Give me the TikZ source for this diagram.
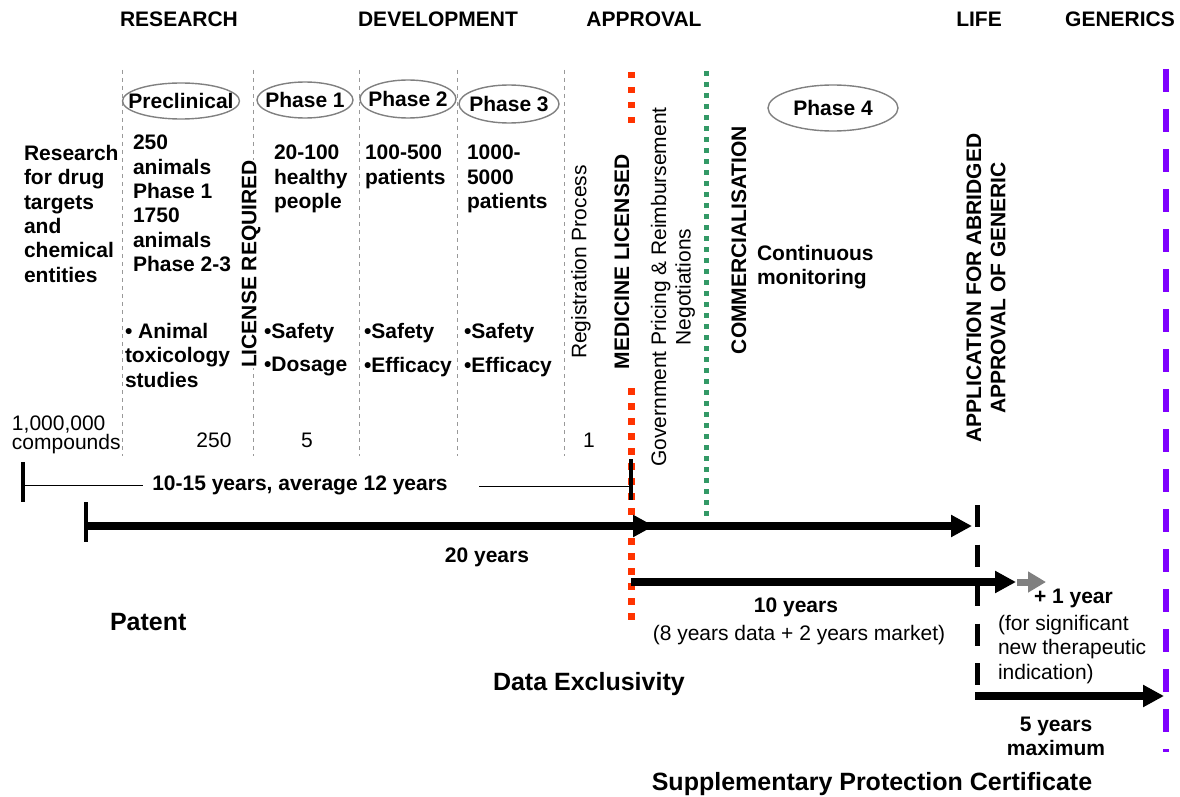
\documentclass[tikz,border=0pt]{standalone}
\usepackage{fontspec}
\setmainfont{Liberation Sans}
\usetikzlibrary{shapes.geometric,arrows.meta}
\definecolor{redorange}{RGB}{255,51,0}
\definecolor{grn}{RGB}{51,153,102}
\definecolor{purp}{RGB}{127,0,255}
\begin{document}
\begin{tikzpicture}[x=1pt,y=-1pt,
 tb/.style={font=\fontsize{21}{24.4}\selectfont\bfseries, inner sep=0pt, outer sep=0pt},
 tr/.style={font=\fontsize{21}{24.4}\selectfont, inner sep=0pt, outer sep=0pt},
 tbig/.style={font=\fontsize{25}{30}\selectfont\bfseries, inner sep=0pt, outer sep=0pt},
 phase/.style={ellipse, draw=gray, line width=1.4pt, inner sep=0pt},
 sepline/.style={draw=gray!80, line width=0.8pt, dash pattern=on 4pt off 4pt},
 bar/.style={line width=7.5pt, -{Triangle[length=21pt,width=21pt]}},
 tickline/.style={line width=4pt},
 redline/.style={draw=redorange, line width=7pt, dash pattern=on 6.5pt off 8.5pt},
 greenline/.style={draw=grn, line width=5pt, dash pattern=on 5pt off 6pt},
 purpline/.style={draw=purp, line width=5.5pt, dash pattern=on 23pt off 17pt},
 lifeline/.style={draw=black, line width=5pt, dash pattern=on 22pt off 17.5pt}]
\useasboundingbox (0,0) rectangle (1180,797);

% headers
\node[tb, anchor=base] (hres) at (179,27) {RESEARCH};
\node[tb, anchor=base] (hdev) at (438,27) {DEVELOPMENT};
\node[tb, anchor=base] (happ) at (644,27) {APPROVAL};
\node[tb, anchor=base] (hlife) at (979,27) {LIFE};
\node[tb, anchor=base] (hgen) at (1120,27) {GENERICS};

% separators
\foreach \i/\x in {1/122,2/253,3/359,4/457,5/564} {
  \coordinate (s\i t) at (\x,70);
  \coordinate (s\i b) at (\x,456);
  \draw[sepline] (s\i t) -- (s\i b);
}

% phase ellipses
\node[phase, minimum width=117pt, minimum height=36pt] (e0) at (181,101) {};
\node[tb] (pre) at (e0) {Preclinical};
\node[phase, minimum width=96pt, minimum height=36pt] (e1) at (305,100) {};
\node[tb] (ph1) at (e1) {Phase 1};
\node[phase, minimum width=96pt, minimum height=38pt] (e2) at (408,99) {};
\node[tb] (ph2) at (e2) {Phase 2};
\node[phase, minimum width=100pt, minimum height=38pt] (e3) at (509,104) {};
\node[tb] (ph3) at (e3) {Phase 3};
\node[phase, minimum width=130pt, minimum height=46pt] (e4) at (833,108) {};
\node[tb] (ph4) at (e4) {Phase 4};

% column texts
\node[tb, align=left, anchor=north west] (research) at (24,145) {Research\\for drug\\targets\\and\\chemical\\entities};
\node[tb, align=left, anchor=north west] (animals) at (133,135) {250\\animals\\Phase 1\\1750\\animals\\Phase 2-3};
\node[tb, align=left, anchor=north west] (tox) at (125,323) {\textbullet\ Animal\\toxicology\\studies};
\node[tb, rotate=90, fill=white] (lic) at (251,264) {LICENSE REQUIRED};
\node[tb, align=left, anchor=north west] (p1txt) at (274,145) {20-100\\healthy\\people};
\node[tb, anchor=north west] (p1a) at (264,323) {\textbullet{}Safety};
\node[tb, anchor=north west] (p1b) at (264,357) {\textbullet{}Dosage};
\node[tb, align=left, anchor=north west] (p2txt) at (365,145) {100-500\\patients};
\node[tb, anchor=north west] (p2a) at (364,323) {\textbullet{}Safety};
\node[tb, anchor=north west] (p2b) at (364,357) {\textbullet{}Efficacy};
\node[tb, align=left, anchor=north west] (p3txt) at (467,145) {1000-\\5000\\patients};
\node[tb, anchor=north west] (p3a) at (464,323) {\textbullet{}Safety};
\node[tb, anchor=north west] (p3b) at (464,357) {\textbullet{}Efficacy};

% counts
\node[tr, align=left, anchor=north west, font=\fontsize{21}{19}\selectfont] (cnt) at (12,416) {1,000,000\\compounds};
\node[tr, anchor=base] (n250) at (214,447) {250};
\node[tr, anchor=base] (n5) at (307,447) {5};
\node[tr, anchor=base] (n1) at (589,447) {1};

% approval column texts
\node[tr, rotate=90] (reg) at (581,262) {Registration Process};
\node[tb, rotate=90] (medlic) at (622,262) {MEDICINE LICENSED};
\node[tr, rotate=90, align=center] (gov) at (673,287) {Government Pricing \& Reimbursement\\Negotiations};
\node[tb, rotate=90] (comm) at (739,240) {COMMERCIALISATION};
\node[tb, align=left, anchor=north west] (cont) at (757,245) {Continuous\\monitoring};
\node[tb, rotate=90, align=center] (appl) at (986,288) {APPLICATION FOR ABRIDGED\\APPROVAL OF GENERIC};

% vertical marker lines
\coordinate (rA) at (631,72);
\coordinate (rB) at (631,126);
\coordinate (rC) at (631,388);
\coordinate (rD) at (631,622);
\draw[redline] (rA) -- (rB);
\draw[redline] (rC) -- (rD);
\coordinate (gA) at (706,71);
\coordinate (gB) at (706,518);
\draw[greenline] (gA) -- (gB);
\coordinate (pA) at (1166,69);
\coordinate (pB) at (1166,752);
\draw[purpline] (pA) -- (pB);
\coordinate (lA) at (977,505);
\coordinate (lB) at (977,690);
\draw[lifeline] (lA) -- (lB);

% 10-15 years span
\coordinate (tl0) at (23,485);
\coordinate (tl1) at (143,485);
\coordinate (tr0) at (479,486);
\coordinate (tr1) at (631,486);
\draw[line width=1pt] (tl0) -- (tl1);
\draw[line width=1pt] (tr0) -- (tr1);
\node[tb, anchor=base] (tlab) at (300,490) {10-15 years, average 12 years};
\coordinate (tk1a) at (23,462);
\coordinate (tk1b) at (23,502);
\draw[tickline] (tk1a) -- (tk1b);
\coordinate (tk2a) at (631,459);
\coordinate (tk2b) at (631,500);
\draw[tickline] (tk2a) -- (tk2b);

% patent
\coordinate (pt0a) at (86,502);
\coordinate (pt0b) at (86,542);
\draw[tickline] (pt0a) -- (pt0b);
\coordinate (pat0) at (86,526);
\coordinate (patm) at (654,526);
\coordinate (patm2) at (640,526);
\coordinate (pat1) at (972,526);
\draw[bar] (pat0) -- (patm);
\draw[bar] (patm2) -- (pat1);
\node[tb, anchor=base] (y20) at (487,562) {20 years};
\node[tbig, anchor=base west] (patent) at (110,630) {Patent};

% data exclusivity
\coordinate (de0) at (631,582);
\coordinate (de1) at (1016,582);
\draw[bar] (de0) -- (de1);
\coordinate (gx0) at (1017,582);
\coordinate (gx1) at (1046,582);
\draw[line width=7pt, draw=gray, fill=gray, -{Triangle[length=18pt,width=20pt]}] (gx0) -- (gx1);
\node[tb, anchor=base] (y10) at (796,612) {10 years};
\node[tr, anchor=base] (y10b) at (799,640) {(8 years data + 2 years market)};
\node[tb, anchor=base west] (plus1) at (1034,603) {+ 1 year};
\node[tr, align=left, anchor=north west] (sig) at (998,615) {(for significant\\new therapeutic\\indication)};
\node[tbig, anchor=base west] (dataex) at (493,690) {Data Exclusivity};

% SPC
\coordinate (sp0) at (975,696);
\coordinate (sp1) at (1164,696);
\draw[bar] (sp0) -- (sp1);
\node[tb, align=center, anchor=north] (y5) at (1056,717) {5 years\\maximum};
\node[tbig, anchor=base] (spc) at (872,790) {Supplementary Protection Certificate};
\end{tikzpicture}
\end{document}
